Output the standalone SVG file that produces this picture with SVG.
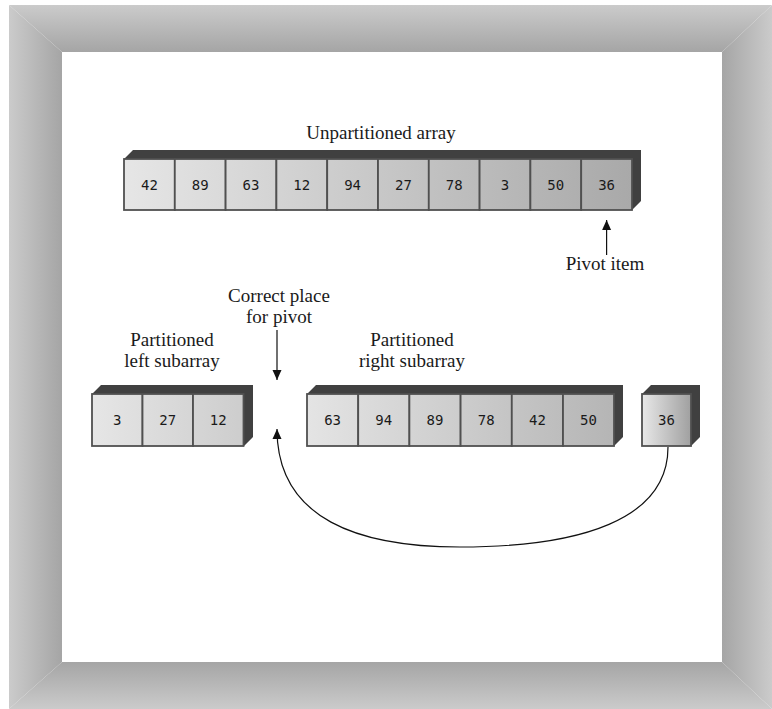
<svg xmlns="http://www.w3.org/2000/svg" width="772" height="709" viewBox="0 0 772 709">
<style>
.lbl{font-family:"Liberation Serif","Times New Roman",serif;font-size:19px;fill:#1a1a1a;text-anchor:middle}
.num{font-family:"DejaVu Sans Mono",monospace;font-size:14px;fill:#1a1a1a;text-anchor:middle}
.face{fill:#404040}
.cell{stroke:#505050;stroke-width:1.8}
.conn{fill:none;stroke:#111;stroke-width:1.2}
</style>
<defs>
<linearGradient id="fTop" x1="0" y1="5" x2="0" y2="52" gradientUnits="userSpaceOnUse"><stop offset="0" stop-color="#cbcbcb"/><stop offset="1" stop-color="#a5a5a5"/></linearGradient>
<linearGradient id="fBot" x1="0" y1="709" x2="0" y2="662" gradientUnits="userSpaceOnUse"><stop offset="0" stop-color="#cbcbcb"/><stop offset="1" stop-color="#a5a5a5"/></linearGradient>
<linearGradient id="fLeft" x1="9" y1="0" x2="62" y2="0" gradientUnits="userSpaceOnUse"><stop offset="0" stop-color="#cbcbcb"/><stop offset="1" stop-color="#a5a5a5"/></linearGradient>
<linearGradient id="fRight" x1="772" y1="0" x2="722" y2="0" gradientUnits="userSpaceOnUse"><stop offset="0" stop-color="#cbcbcb"/><stop offset="1" stop-color="#a5a5a5"/></linearGradient>
<linearGradient id="gA" x1="124" y1="0" x2="632" y2="0" gradientUnits="userSpaceOnUse"><stop offset="0" stop-color="#e6e6e6"/><stop offset="1" stop-color="#a9a9a9"/></linearGradient>
<linearGradient id="gL" x1="92" y1="0" x2="244" y2="0" gradientUnits="userSpaceOnUse"><stop offset="0" stop-color="#e6e6e6"/><stop offset="1" stop-color="#cdcdcd"/></linearGradient>
<linearGradient id="gR" x1="307" y1="0" x2="614" y2="0" gradientUnits="userSpaceOnUse"><stop offset="0" stop-color="#e4e4e4"/><stop offset="1" stop-color="#b5b5b5"/></linearGradient>
<linearGradient id="gP" x1="0" y1="0" x2="1" y2="0"><stop offset="0" stop-color="#e8e8e8"/><stop offset="1" stop-color="#a0a0a0"/></linearGradient>
<marker id="ah" viewBox="0 0 10 10" refX="10" refY="5" markerWidth="10" markerHeight="10" markerUnits="userSpaceOnUse" orient="auto"><path d="M0,0.5 L10,5 L0,9.5 Z" fill="#111"/></marker>
</defs>

<g id="frame">
<rect x="0" y="0" width="772" height="709" fill="#ffffff"/>
<polygon points="9,5 772,5 722,52 62,52" fill="url(#fTop)"/>
<polygon points="9,709 772,709 722,662 62,662" fill="url(#fBot)"/>
<polygon points="9,5 62,52 62,662 9,709" fill="url(#fLeft)"/>
<polygon points="772,5 722,52 722,662 772,709" fill="url(#fRight)"/>
<rect x="62" y="52" width="660" height="610" fill="#ffffff"/>
</g>

<g id="unpartitioned">
<text class="lbl" x="381" y="139">Unpartitioned array</text>
<polygon class="face" points="124,159 133,150 641,150 641,201 632,210 632,159"/>
<g fill="url(#gA)">
<rect class="cell" x="124" y="159" width="50.8" height="51"/>
<rect class="cell" x="174.8" y="159" width="50.8" height="51"/>
<rect class="cell" x="225.6" y="159" width="50.8" height="51"/>
<rect class="cell" x="276.4" y="159" width="50.8" height="51"/>
<rect class="cell" x="327.2" y="159" width="50.8" height="51"/>
<rect class="cell" x="378" y="159" width="50.8" height="51"/>
<rect class="cell" x="428.8" y="159" width="50.8" height="51"/>
<rect class="cell" x="479.6" y="159" width="50.8" height="51"/>
<rect class="cell" x="530.4" y="159" width="50.8" height="51"/>
<rect class="cell" x="581.2" y="159" width="50.8" height="51"/>
</g>
<text class="num" x="149.4" y="189.5">42</text>
<text class="num" x="200.2" y="189.5">89</text>
<text class="num" x="251" y="189.5">63</text>
<text class="num" x="301.8" y="189.5">12</text>
<text class="num" x="352.6" y="189.5">94</text>
<text class="num" x="403.4" y="189.5">27</text>
<text class="num" x="454.2" y="189.5">78</text>
<text class="num" x="505" y="189.5">3</text>
<text class="num" x="555.8" y="189.5">50</text>
<text class="num" x="606.6" y="189.5">36</text>
</g>

<g id="pivot-label">
<text class="lbl" x="605" y="270">Pivot item</text>
</g>

<g id="correct-place-label">
<text class="lbl" x="279" y="302">Correct place</text>
<text class="lbl" x="279" y="323">for pivot</text>
</g>

<g id="left-subarray">
<text class="lbl" x="172" y="346">Partitioned</text>
<text class="lbl" x="172" y="367">left subarray</text>
<polygon class="face" points="92,394 101,385 253,385 253,437 244,446 244,394"/>
<g fill="url(#gL)">
<rect class="cell" x="92" y="394" width="50.5" height="52"/>
<rect class="cell" x="142.5" y="394" width="50.5" height="52"/>
<rect class="cell" x="193" y="394" width="50.5" height="52"/>
</g>
<text class="num" x="117.3" y="425">3</text>
<text class="num" x="167.8" y="425">27</text>
<text class="num" x="218.3" y="425">12</text>
</g>

<g id="right-subarray">
<text class="lbl" x="412" y="346">Partitioned</text>
<text class="lbl" x="412" y="367">right subarray</text>
<polygon class="face" points="307,394 316,385 623,385 623,437 614,446 614,394"/>
<g fill="url(#gR)">
<rect class="cell" x="307" y="394" width="51.2" height="52"/>
<rect class="cell" x="358.2" y="394" width="51.2" height="52"/>
<rect class="cell" x="409.4" y="394" width="51.2" height="52"/>
<rect class="cell" x="460.6" y="394" width="51.2" height="52"/>
<rect class="cell" x="511.8" y="394" width="51.2" height="52"/>
<rect class="cell" x="563" y="394" width="51" height="52"/>
</g>
<text class="num" x="332.6" y="425">63</text>
<text class="num" x="383.8" y="425">94</text>
<text class="num" x="435" y="425">89</text>
<text class="num" x="486.2" y="425">78</text>
<text class="num" x="537.4" y="425">42</text>
<text class="num" x="588.5" y="425">50</text>
</g>

<g id="pivot-cell">
<polygon class="face" points="642,394 651,385 700,385 700,437 691,446 691,394"/>
<rect class="cell" x="642" y="394" width="49" height="52" fill="url(#gP)"/>
<text class="num" x="666.5" y="425">36</text>
</g>

<g id="connectors">
<line class="conn" x1="606.6" y1="255" x2="606.6" y2="220" marker-end="url(#ah)"/>
<line class="conn" x1="277" y1="330" x2="277" y2="380" marker-end="url(#ah)"/>
<path class="conn" d="M668,447 C668,520 580,547 460,547 C360,547 277,520 277,429" marker-end="url(#ah)"/>
</g>
</svg>
